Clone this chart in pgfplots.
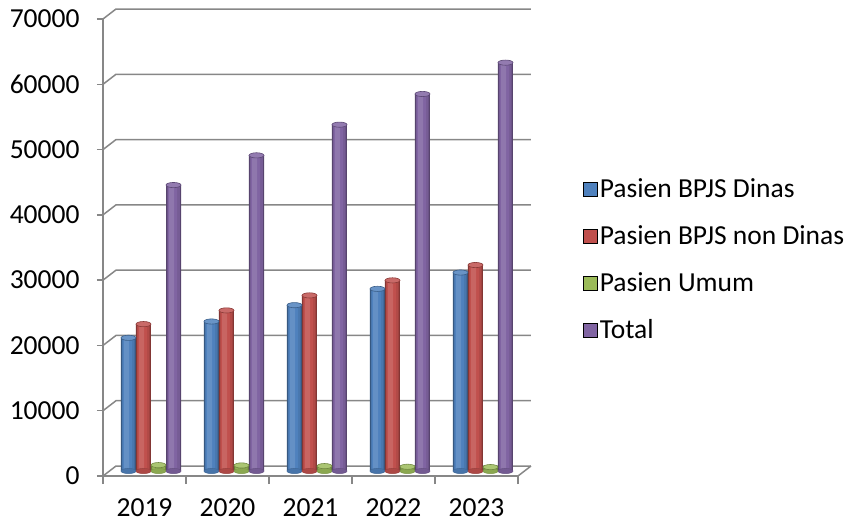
\documentclass[border=0pt]{standalone}
\usepackage{fontspec}
\setmainfont{Carlito}
\usepackage{pgfplots}
\usepackage{pgfplotstable}
\pgfplotsset{compat=1.18}
\definecolor{cB}{HTML}{4F81BD}
\definecolor{cR}{HTML}{C0504D}
\definecolor{cG}{HTML}{9BBB59}
\definecolor{cP}{HTML}{8064A2}
\definecolor{gridc}{HTML}{878787}
\pgfdeclareplotmark{cyl}{\pgfpathellipse{\pgfpointorigin}{\pgfpoint{7.5bp}{0pt}}{\pgfpoint{0pt}{2.6bp}}\pgfusepathqfillstroke}
\pgfplotstableread{
x dinas nondinas umum total
0 20400 22500 900 43800
1 22900 24600 850 48350
2 25400 26900 750 53050
3 27900 29200 650 57750
4 30400 31550 600 62550
}\data
\newcommand\cfont{\fontsize{27.5bp}{33bp}\selectfont}
\newcommand\cylbar[3]{%
\addplot[forget plot, only marks, mark=cyl, mark options={fill=#2!90!black, draw=#2!80!black, line width=0.5bp}, xshift=#3, yshift=5bp] table[x=x, y expr=0]{\data};
\addplot[forget plot, ybar, bar width=15bp, bar shift=0bp, draw=none, fill=#2!68!black, xshift=#3, yshift=5bp] table[x=x, y=#1]{\data};
\addplot[forget plot, ybar, bar width=12.5bp, bar shift=0bp, draw=none, fill=#2!92!black, xshift=#3, yshift=5bp] table[x=x, y=#1]{\data};
\addplot[forget plot, ybar, bar width=9bp, bar shift=-0.8bp, draw=none, fill=#2, xshift=#3, yshift=5bp] table[x=x, y=#1]{\data};
\addplot[forget plot, ybar, bar width=5bp, bar shift=-1.8bp, draw=none, fill=#2!88!white, xshift=#3, yshift=5bp] table[x=x, y=#1]{\data};
\addplot[forget plot, only marks, mark=cyl, mark options={fill=#2!85!white, draw=#2!72!black, line width=0.6bp}, xshift=#3, yshift=5bp] table[x=x, y=#1]{\data};
}
\begin{document}
\begin{tikzpicture}
\begin{axis}[
 at={(103bp,-476bp)}, anchor=south west,
 scale only axis, width=415bp, height=457bp,
 xmin=-0.5, xmax=4.5, ymin=0, ymax=70000,
 clip=false,
 axis x line*=bottom, axis y line*=left,
 axis line style={gridc, line width=1.5bp},
 every tick/.style={gridc, line width=1.5bp},
 xtick={0,...,4}, xticklabels={2019,2020,2021,2022,2023},
 minor xtick={-0.5,0.5,...,4.5},
 major x tick style={draw=none},
 ytick={0,10000,...,70000},
 tick align=outside,
 major tick length=6bp, minor tick length=8bp,
 scaled y ticks=false,
 /pgf/number format/assume math mode=true,
 /pgf/number format/1000 sep={},
 tick label style={font=\cfont, text=black},
 xticklabel style={yshift=-13bp},
 yticklabel style={xshift=-14bp},
 legend image code/.code={\fill[#1] (0bp,-7bp) rectangle (14bp,7bp);},
 legend style={at={(1.150,0.474)}, anchor=west, draw=none, fill=none,
   font=\cfont, row sep=22.5bp, nodes={inner sep=2bp}},
 legend cell align=left,
]
\pgfplotsinvokeforeach{0,10000,20000,30000,40000,50000,60000,70000}{
 \draw[gridc, line width=1.5bp] (axis cs:-0.5,#1) -- ++(13bp,10bp) -- ([xshift=13bp,yshift=10bp]axis cs:4.5,#1);
}
\draw[gridc, line width=1.5bp] (axis cs:4.5,0) -- ++(13bp,10bp);
\addlegendimage{fill=cB}
\addlegendimage{fill=cR}
\addlegendimage{fill=cG}
\addlegendimage{fill=cP}
\cylbar{dinas}{cB}{-16bp}
\cylbar{nondinas}{cR}{-1bp}
\cylbar{umum}{cG}{14bp}
\cylbar{total}{cP}{29bp}
\legend{Pasien BPJS Dinas, Pasien BPJS non Dinas, Pasien Umum, Total}
\end{axis}
\pgfresetboundingbox
\path (0,0) rectangle (849bp,-523bp);
\end{tikzpicture}
\end{document}
